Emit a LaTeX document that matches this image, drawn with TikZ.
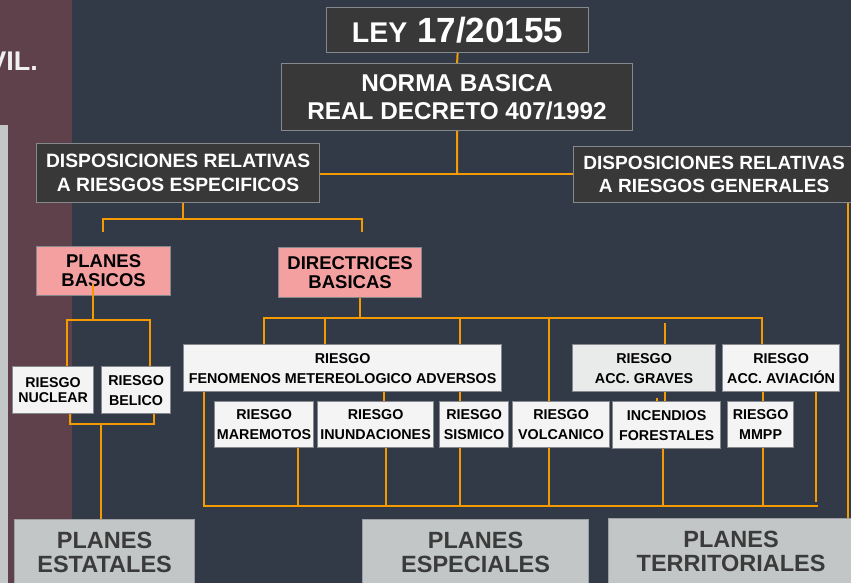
\documentclass[tikz,border=0pt]{standalone}
\usepackage{fontspec}
\setmainfont{Liberation Sans}
\usetikzlibrary{calc}
\definecolor{bg}{HTML}{323947}
\definecolor{maroon}{HTML}{5E414B}
\definecolor{darkbox}{HTML}{383838}
\definecolor{boxedge}{HTML}{85898D}
\definecolor{pinkbox}{HTML}{F4A0A0}
\definecolor{whitebox}{HTML}{F4F4F4}
\definecolor{gravesbox}{HTML}{E9EBEA}
\definecolor{planbox}{HTML}{C3C6C7}
\definecolor{planedge}{HTML}{9DA0A2}
\definecolor{plantext}{HTML}{3B3B3B}
\definecolor{orangeline}{HTML}{F59A00}
\definecolor{sidebar}{HTML}{C4C7C8}
\begin{document}
\begin{tikzpicture}[x=1pt,y=-1pt,
  base/.style={draw=boxedge, line width=1.2pt, inner sep=0pt, align=center, anchor=north west},
  darkn/.style={base, fill=darkbox, text=white},
  pinkn/.style={base, fill=pinkbox, text=black, font=\bfseries\fontsize{18.5}{19}\selectfont},
  riskn/.style={base, fill=whitebox, text=black, font=\bfseries\fontsize{14.3}{20}\selectfont},
  plann/.style={base, fill=planbox, draw=planedge, text=plantext, font=\bfseries\fontsize{23.5}{24}\selectfont},
  conn/.style={draw=orangeline, line width=2pt},
  thinconn/.style={draw=orangeline, line width=1.6pt},
]
\useasboundingbox (0,0) rectangle (851,583);
\clip (0,0) rectangle (851,583);
\fill[bg] (0,0) rectangle (851,583);
\fill[maroon] (0,0) rectangle (72,583);
\fill[sidebar] (0,125) rectangle (8,583);

\node[anchor=base east, inner sep=0pt, text=white!94!black, font=\bfseries\fontsize{27}{30}\selectfont] (vil) at (38,71) {VIL.};

% top nodes
\node[darkn, minimum width=262, minimum height=45, font=\bfseries] (ley) at (326,7)
  {{\fontsize{28.5}{34}\selectfont LEY}\hspace{10pt}{\fontsize{35}{42}\selectfont 17/20155}};
\node[darkn, minimum width=351, minimum height=67, font=\bfseries\fontsize{24.3}{28}\selectfont] (norma) at (281,63)
  {NORMA BASICA\\REAL DECRETO 407/1992};
\node[darkn, minimum width=283, minimum height=59, font=\bfseries\fontsize{19.3}{24}\selectfont] (dispesp) at (36,143)
  {DISPOSICIONES RELATIVAS\\A RIESGOS ESPECIFICOS};
\node[darkn, minimum width=281, minimum height=56, font=\bfseries\fontsize{19.1}{23}\selectfont] (dispgen) at (573,146)
  {DISPOSICIONES RELATIVAS\\A RIESGOS GENERALES};

% pink nodes
\node[pinkn, minimum width=134, minimum height=49] (pbasic) at (36,246) {PLANES\\BASICOS};
\node[pinkn, minimum width=143, minimum height=50] (direct) at (278,247) {DIRECTRICES\\BASICAS};

% risk nodes
\node[riskn, minimum width=81, minimum height=47, font=\bfseries\fontsize{14.2}{15}\selectfont] (nuclear) at (12,366) {RIESGO\\NUCLEAR};
\node[riskn, minimum width=69, minimum height=47] (belico) at (101,366) {RIESGO\\BELICO};
\node[riskn, minimum width=318, minimum height=47] (fenom) at (183,344) {RIESGO\\FENOMENOS METEREOLOGICO ADVERSOS};
\node[riskn, minimum width=143, minimum height=47, fill=gravesbox] (graves) at (572,344) {RIESGO\\ACC. GRAVES};
\node[riskn, minimum width=117, minimum height=47] (aviac) at (722,344) {RIESGO\\ACC. AVIACIÓN};
\node[riskn, minimum width=99, minimum height=46] (marem) at (214,401) {RIESGO\\MAREMOTOS};
\node[riskn, minimum width=116, minimum height=46] (inund) at (317,401) {RIESGO\\INUNDACIONES};
\node[riskn, minimum width=69, minimum height=46] (sism) at (439,401) {RIESGO\\SISMICO};
\node[riskn, minimum width=97, minimum height=46] (volc) at (512,401) {RIESGO\\VOLCANICO};
\node[riskn, minimum width=108, minimum height=47] (incend) at (612,401) {INCENDIOS\\FORESTALES};
\node[riskn, minimum width=66, minimum height=46] (mmpp) at (727,401) {RIESGO\\MMPP};

% planes
\node[plann, minimum width=180, minimum height=65] (pestat) at (14,519) {PLANES\\ESTATALES};
\node[plann, minimum width=226, minimum height=65] (pespec) at (362,519) {PLANES\\ESPECIALES};
\node[plann, minimum width=245, minimum height=66] (pterr) at (608,518) {PLANES\\TERRITORIALES};

% helper coordinates
\coordinate (j1) at (457,174);
\coordinate (j2) at (183,219);
\coordinate (pbtop) at (103,232);
\coordinate (dbtop) at (362,232);
\coordinate (b1) at (93,320);
\coordinate (b2) at (67,320);
\coordinate (b3) at (150,320);
\coordinate (b4) at (70,424);
\coordinate (b5) at (154,424);
\coordinate (b6) at (101,424);
\coordinate (d0) at (360,318);
\coordinate (dl) at (264,318);
\coordinate (dr) at (762,318);
\coordinate (t325) at (325,318);
\coordinate (t460) at (460,318);
\coordinate (t549) at (549,318);
\coordinate (t665) at (665,323);
\coordinate (bus) at (0,506);
\coordinate (x204) at (204,0);
\coordinate (x298) at (298,0);
\coordinate (x384) at (384,0);
\coordinate (x386) at (386,0);
\coordinate (x460) at (460,0);
\coordinate (x549) at (549,0);
\coordinate (x657) at (657,398);
\coordinate (x663) at (663,0);
\coordinate (x665) at (665,0);
\coordinate (x763) at (763,0);
\coordinate (x816) at (816,502);
\coordinate (x818) at (818,0);
\coordinate (x848) at (848,0);

% connectors
\draw[conn] (ley.south) -- (norma.north);
\draw[conn] (norma.south) -- (j1);
\draw[conn] (dispesp.east |- j1) -- (dispgen.west |- j1);
\draw[conn] (dispesp.south -| j2) -- (j2);
\draw[conn] (pbtop) -- (pbtop |- j2) -- (dbtop |- j2) -- (dbtop);
\draw[conn] ($(pbasic.south -| b1)+(0,-12)$) -- (b1);
\draw[conn] (nuclear.north -| b2) -- (b2) -- (b3) -- (belico.north -| b3);
\draw[conn] (nuclear.south -| b4) -- (b4) -- (b5) -- (belico.south -| b5);
\draw[conn] (b6) -- (pestat.north -| b6);

\draw[conn] (direct.south -| d0) -- (d0);
\draw[conn] (fenom.north -| dl) -- (dl) -- (dr) -- (aviac.north -| dr);
\draw[conn] (t325) -- (fenom.north -| t325);
\draw[conn] (t460) -- (fenom.north -| t460);
\draw[conn] (t549) -- (volc.north -| t549);
\draw[conn] (t665) -- (graves.north -| t665);

\draw[conn] (fenom.south -| x384) -- (inund.north -| x384);
\draw[conn] (fenom.south -| x460) -- (sism.north -| x460);
\draw[conn] (graves.south -| x665) -- (incend.north -| x665);
\draw[conn] (x657) -- (incend.north -| x657);
\draw[conn] (aviac.south -| x763) -- (mmpp.north -| x763);

\draw[conn] (fenom.south -| x204) -- (x204 |- bus) -- (x818 |- bus);
\draw[thinconn] (marem.south -| x298) -- (x298 |- bus);
\draw[thinconn] (inund.south -| x386) -- (x386 |- bus);
\draw[thinconn] (sism.south -| x460) -- (x460 |- bus);
\draw[thinconn] (volc.south -| x549) -- (x549 |- bus);
\draw[thinconn] (incend.south -| x663) -- (x663 |- bus);
\draw[thinconn] (mmpp.south -| x763) -- (x763 |- bus);
\draw[thinconn] (aviac.south -| x816) -- (x816);

\draw[conn] (dispgen.south -| x848) -- (pterr.north -| x848);
\end{tikzpicture}
\end{document}
